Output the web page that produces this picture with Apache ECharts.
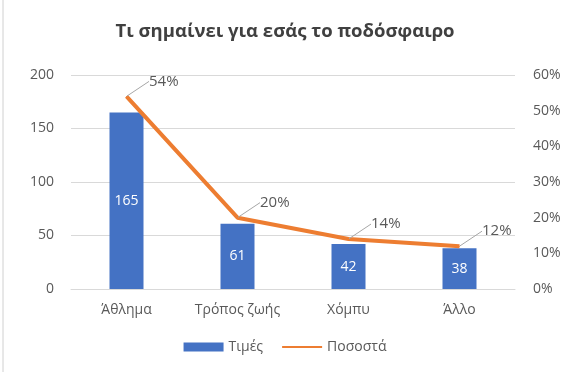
<!DOCTYPE html>
<html><head><meta charset="utf-8">
<script src="https://cdn.jsdelivr.net/npm/echarts@6/dist/echarts.min.js"></script>
<style>html,body{margin:0;padding:0;background:#fff}#c{width:570px;height:372px}</style>
</head><body><div id="c"></div>
<script>
const categories = ['Άθλημα', 'Τρόπος ζωής', 'Χόμπυ', 'Άλλο'];
const values = [165, 61, 42, 38];
const percents = [54, 20, 14, 12];
const leftTicks = [0, 50, 100, 150, 200];
const rightTicks = [0, 10, 20, 30, 40, 50, 60];

const font = '"Open Sans", "Noto Sans", sans-serif';
const txt = '#595959';
const chart = echarts.init(document.getElementById('c'));
chart.setOption({
  animation: false,
  textStyle: { fontFamily: font },
  title: {
    text: 'Τι σημαίνει για εσάς το ποδόσφαιρο',
    left: 'center', top: 17,
    textStyle: { fontFamily: font, fontSize: 18.5, fontWeight: 'bold', color: '#404040' }
  },
  graphic: [{ type: 'line', shape: { x1: 3, y1: 0, x2: 3, y2: 372 }, style: { stroke: '#d0d0d0', lineWidth: 1 } }],
  legend: {
    bottom: 13, left: 'center', itemGap: 18,
    textStyle: { fontFamily: font, fontSize: 14, color: txt },
    data: [
      { name: 'Τιμές', icon: 'rect' },
      { name: 'Ποσοστά', itemStyle: { opacity: 0 } }
    ],
    itemWidth: 40, itemHeight: 9
  },
  grid: { left: 71, right: 55, top: 75, bottom: 83 },
  xAxis: {
    type: 'category', data: categories,
    axisLine: { show: true, lineStyle: { color: '#d9d9d9' } },
    axisTick: { show: false },
    axisLabel: { fontFamily: font, fontSize: 14, color: txt, margin: 14 }
  },
  yAxis: [
    {
      type: 'value', min: leftTicks[0], max: leftTicks[leftTicks.length - 1], interval: 50,
      axisLine: { show: false }, axisTick: { show: false },
      axisLabel: { fontFamily: font, fontSize: 14, color: txt, margin: 17 },
      splitLine: { lineStyle: { color: '#d9d9d9' } }
    },
    {
      type: 'value', min: rightTicks[0], max: rightTicks[rightTicks.length - 1], interval: 10,
      axisLine: { show: false }, axisTick: { show: false },
      axisLabel: { fontFamily: font, fontSize: 14, color: txt, margin: 18, formatter: '{value}%' },
      splitLine: { show: false }
    }
  ],
  series: [
    {
      name: 'Τιμές', type: 'bar', data: values, barWidth: 34,
      itemStyle: { color: '#4472C4' },
      label: { show: true, position: 'inside', color: '#fff', fontFamily: font, fontSize: 14 }
    },
    {
      name: 'Ποσοστά', type: 'line', yAxisIndex: 1, data: percents,
      symbol: 'circle', symbolSize: 1, showSymbol: true, smooth: false,
      lineStyle: { color: '#ED7D31', width: 4 },
      itemStyle: { color: '#ED7D31' },
      label: { show: true, position: 'right', distance: 4, formatter: '{c}%', color: txt, fontFamily: font, fontSize: 15 },
      labelLayout: { dx: 18, dy: -15 },
      labelLine: { show: true, lineStyle: { color: '#a6a6a6', width: 1 } }
    }
  ]
});
</script></body></html>
